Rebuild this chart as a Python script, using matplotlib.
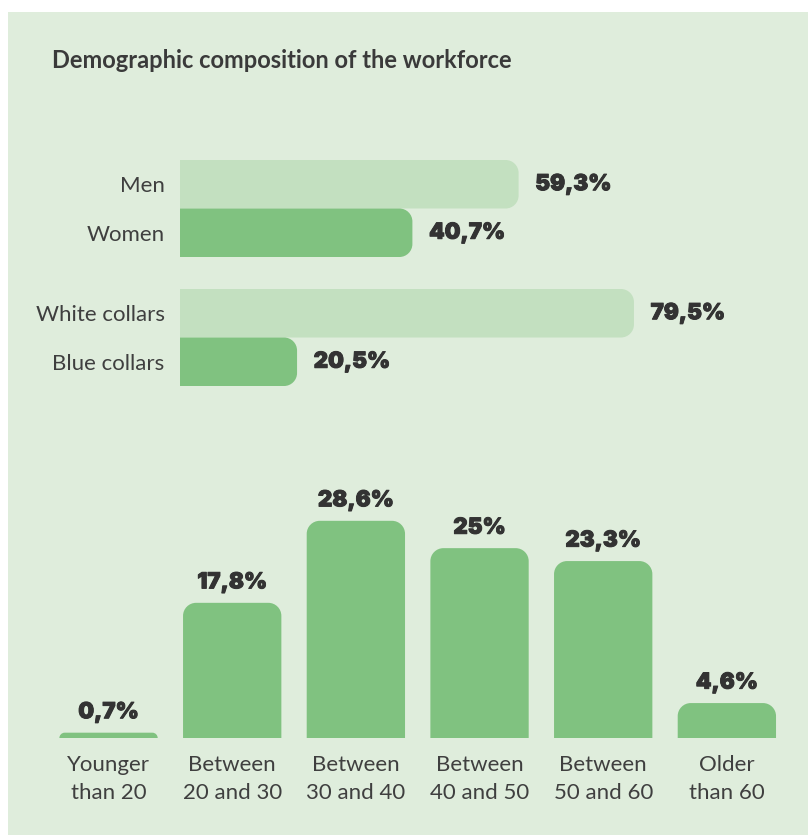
import matplotlib
matplotlib.use("Agg")
import matplotlib.pyplot as plt
import matplotlib.patheffects as pe
from matplotlib.path import Path
from matplotlib.patches import PathPatch, Rectangle

# ---- data -------------------------------------------------------------
title = "Demographic composition of the workforce"

pair_labels = ["Men", "Women", "White collars", "Blue collars"]
pair_values = [59.3, 40.7, 79.5, 20.5]
pair_shades = ["light", "dark", "light", "dark"]
pair_positions = [0, 1, 2.66, 3.66]

age_labels = ["Younger\nthan 20", "Between\n20 and 30", "Between\n30 and 40",
              "Between\n40 and 50", "Between\n50 and 60", "Older\nthan 60"]
age_values = [0.7, 17.8, 28.6, 25.0, 23.3, 4.6]

# ---- style ------------------------------------------------------------
W, H, DPI = 808, 835, 100
BG = "#dfeddc"
LIGHT = "#c3e0c0"
DARK = "#80c280"
TEXT = "#333333"
LABEL = "#3f3f3f"
FONT = "Lato"
VALUE_FONT = ["Inter", "DejaVu Sans"]
VALUE_FX = [pe.withStroke(linewidth=0.7, foreground=TEXT)]
RADIUS_PX = 13

plt.rcParams["font.family"] = [FONT, "DejaVu Sans"]


def fmt(v):
    return f"{v:g}".replace(".", ",") + "%"


def rounded_path(x0, y0, x1, y1, rx, ry, corners):
    """Rectangle path with selected rounded corners ('tr','tl','br','bl')."""
    k = 0.5523
    verts, codes = [], []

    def move(p):
        verts.append(p); codes.append(Path.MOVETO)

    def line(p):
        verts.append(p); codes.append(Path.LINETO)

    def curve(c1, c2, p):
        verts.extend([c1, c2, p]); codes.extend([Path.CURVE4] * 3)

    # start bottom-left, go counter-clockwise
    if "bl" in corners:
        move((x0 + rx, y0))
    else:
        move((x0, y0))
    if "br" in corners:
        line((x1 - rx, y0))
        curve((x1 - rx + k * rx, y0), (x1, y0 + ry - k * ry), (x1, y0 + ry))
    else:
        line((x1, y0))
    if "tr" in corners:
        line((x1, y1 - ry))
        curve((x1, y1 - ry + k * ry), (x1 - rx + k * rx, y1), (x1 - rx, y1))
    else:
        line((x1, y1))
    if "tl" in corners:
        line((x0 + rx, y1))
        curve((x0 + rx - k * rx, y1), (x0, y1 - ry + k * ry), (x0, y1 - ry))
    else:
        line((x0, y1))
    if "bl" in corners:
        line((x0, y0 + ry))
        curve((x0, y0 + ry - k * ry), (x0 + rx - k * rx, y0), (x0 + rx, y0))
    else:
        line((x0, y0))
    verts.append(verts[0]); codes.append(Path.CLOSEPOLY)
    return Path(verts, codes)


def px_per_unit(ax):
    pos = ax.get_position()
    x0, x1 = ax.get_xlim()
    y0, y1 = ax.get_ylim()
    return (pos.width * W / abs(x1 - x0), pos.height * H / abs(y1 - y0))


def round_bars(ax, bars, corners):
    sx, sy = px_per_unit(ax)
    for b in bars:
        x, y = b.get_x(), b.get_y()
        w, h = b.get_width(), b.get_height()
        x0, x1 = min(x, x + w), max(x, x + w)
        y0, y1 = min(y, y + h), max(y, y + h)
        r = min(RADIUS_PX, (x1 - x0) * sx, (y1 - y0) * sy)
        rx, ry = r / sx, r / sy
        patch = PathPatch(rounded_path(x0, y0, x1, y1, rx, ry, corners),
                          facecolor=b.get_facecolor(), edgecolor="none")
        ax.add_patch(patch)
        b.set_visible(False)


fig = plt.figure(figsize=(W / DPI, H / DPI), dpi=DPI, facecolor="white")
fig.patches.append(Rectangle((8 / W, 0), 1 - 8 / W, 1 - 12 / H,
                             transform=fig.transFigure, facecolor=BG,
                             edgecolor="none", zorder=-10))

fig.text(52 / W, 1 - 61 / H, title, fontsize=17, fontweight="bold",
         color="#3a3a3a", va="center", ha="left")

# ---- horizontal bars -------------------------------------------------
ax1 = fig.add_axes([180 / W, (H - 386) / H, 571 / W, 226 / H])
ax1.set_xlim(0, 100)
ax1.set_ylim(4.16, -0.5)
colors = [LIGHT if s == "light" else DARK for s in pair_shades]
hb = ax1.barh(pair_positions, pair_values, height=1.0, color=colors)
round_bars(ax1, hb, ("tr", "br"))
for p, v in zip(pair_positions, pair_values):
    ax1.annotate(fmt(v), (v, p), xytext=(12, 0), textcoords="offset points",
                 va="center", ha="left", fontsize=16, fontweight=900,
                 family=VALUE_FONT, color=TEXT, path_effects=VALUE_FX)
ax1.set_yticks(pair_positions)
ax1.set_yticklabels(pair_labels, fontsize=16, fontweight="normal", color=LABEL)
ax1.tick_params(axis="y", length=0, pad=11)
ax1.set_xticks([])
ax1.patch.set_visible(False)
for s in ax1.spines.values():
    s.set_visible(False)

# ---- vertical bars ---------------------------------------------------
ax2 = fig.add_axes([46.7 / W, (H - 738) / H, 742 / W, 243 / H])
ax2.set_xlim(-0.5, 5.5)
ax2.set_ylim(0, 32)
xs = list(range(len(age_values)))
vb = ax2.bar(xs, age_values, width=0.795, color=DARK)
round_bars(ax2, vb, ("tl", "tr"))
for x, v in zip(xs, age_values):
    ax2.annotate(fmt(v), (x, v), xytext=(0, 7.5), textcoords="offset points",
                 va="bottom", ha="center", fontsize=16, fontweight=900,
                 family=VALUE_FONT, color=TEXT, path_effects=VALUE_FX,
                 annotation_clip=False)
ax2.set_xticks(xs)
ax2.set_xticklabels(age_labels, fontsize=16, fontweight="normal", color=LABEL,
                    linespacing=1.5)
ax2.tick_params(axis="x", length=0, pad=12)
ax2.set_yticks([])
ax2.patch.set_visible(False)
for s in ax2.spines.values():
    s.set_visible(False)

fig.savefig("out.png", dpi=DPI, facecolor="white")
